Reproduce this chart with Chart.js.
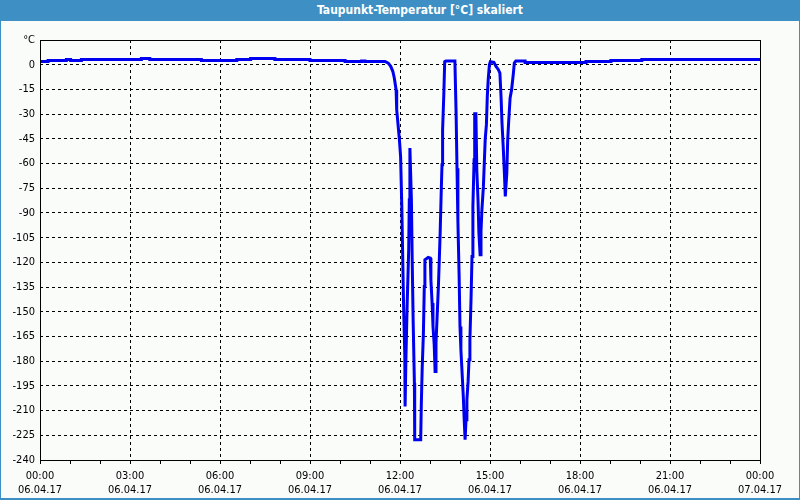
<!DOCTYPE html>
<html>
<head>
<meta charset="utf-8">
<script src="https://cdn.jsdelivr.net/npm/chart.js@4/dist/chart.umd.min.js"></script>
<style>
  html, body { margin: 0; padding: 0; }
  body { width: 800px; height: 500px; position: relative; background: #fafcfa; overflow: hidden; }
  #frame { position: absolute; left: 0; top: 0; width: 800px; height: 500px; box-sizing: border-box;
           border: 1px solid #3c8fc4; border-bottom-width: 2px; }
  #titlebar { position: absolute; left: 0; top: 0; width: 800px; height: 21px; background: #3d8fc4;
              color: #ffffff; font: bold 12px "DejaVu Sans Condensed", "DejaVu Sans", sans-serif;
              line-height: 21px; text-align: center; box-sizing: border-box; padding-left: 40px; }
  #c { position: absolute; left: 0; top: 0; }
</style>
</head>
<body>
<div id="frame"></div>
<div id="titlebar">Taupunkt-Temperatur [°C] skaliert</div>
<canvas id="c" width="800" height="500"></canvas>
<script>
// Time in hours since 06.04.17 00:00
const timeHours = [
  0, 0.27, 0.27, 0.88, 0.88, 1.02, 1.02, 1.38, 1.38, 3.38, 3.38, 3.66, 3.66, 5.38, 5.38, 6.56, 6.56, 7.02, 7.02, 7.83,
  7.83, 9.0, 9.0, 10.17, 10.17, 10.72, 10.72, 10.83, 10.83, 11.5,
  11.61, 11.69, 11.76, 11.81, 11.87, 11.89, 11.94, 11.98, 12.02, 12.06, 12.09, 12.12, 12.16, 12.17, 12.2, 12.24, 12.29,
  12.31, 12.33, 12.38, 12.41, 12.44, 12.48, 12.49, 12.69, 12.71, 12.74, 12.78, 12.81, 12.83, 12.94, 13.01, 13.03, 13.07,
  13.1, 13.14, 13.17, 13.2, 13.24, 13.28, 13.31, 13.34, 13.37, 13.4, 13.42, 13.46, 13.49, 13.53, 13.83, 13.87, 13.9,
  13.93, 13.97, 14.0, 14.03, 14.07, 14.11, 14.14, 14.17, 14.2, 14.23, 14.27, 14.3, 14.33, 14.37, 14.4, 14.43, 14.47,
  14.49, 14.53, 14.56, 14.6, 14.63, 14.67, 14.7, 14.73, 14.78, 14.81, 14.84, 14.88, 14.91, 14.94, 14.98, 15.01, 15.13,
  15.2, 15.28, 15.33, 15.37, 15.4, 15.44, 15.48, 15.51, 15.56, 15.59, 15.62, 15.67, 15.72, 15.78, 15.81, 15.86,
  16.17, 16.17, 18.2, 18.2, 19.03, 19.03, 20.06, 20.06, 24
];
// Dew point temperature [°C]
const dewPoint = [
  2.0, 2.0, 2.6, 2.6, 3.2, 3.2, 2.6, 2.6, 3.2, 3.2, 3.8, 3.8, 3.2, 3.2, 2.6, 2.6, 3.2, 3.2, 3.8, 3.8,
  3.2, 3.2, 2.6, 2.6, 2.0, 2.0, 2.3, 2.3, 2.0, 2.0,
  1.0, -1.0, -4.0, -8.1, -15.2, -27.3, -37.5, -45.5, -55.7, -86.0, -116.4, -146.8, -176.1, -207.5, -176.1, -144.7, -112.4,
  -82.0, -50.6, -82.0, -122.5, -156.9, -193.3, -227.7, -227.7, -206.5, -184.2, -163.0, -134.6, -118.4, -117.0, -117.4, -130.6, -144.7,
  -158.9, -170.0, -186.2, -169.0, -151.8, -134.6, -118.4, -101.2, -80.0, -60.7, -39.5, -18.2, 1.8, 2.2, 2.2, -29.4, -62.8,
  -95.1, -127.5, -158.9, -173.1, -187.2, -201.4, -215.6, -227.7, -215.6, -203.4, -192.3, -179.2, -167.0, -140.7, -116.4, -86.0, -57.7,
  -29.8, -29.8, -63.8, -82.0, -102.2, -115.4, -101.2, -88.1, -73.9, -59.7, -45.5, -36.4, -19.2, -9.1, 0, 1.8, 1.4,
  -1.0, -3.0, -5.1, -20.2, -35.4, -49.6, -65.8, -80.0, -65.8, -45.5, -35.4, -20.2, -15.2, -5.1, 1.0, 2.2,
  2.2, 1.4, 1.4, 2.0, 2.0, 2.6, 2.6, 3.2, 3.2
];
// X tick labels every 3 hours
const xTickHours = [0, 3, 6, 9, 12, 15, 18, 21, 24];
const xTickTimes = ['00:00', '03:00', '06:00', '09:00', '12:00', '15:00', '18:00', '21:00', '00:00'];
const xTickDates = ['06.04.17', '06.04.17', '06.04.17', '06.04.17', '06.04.17', '06.04.17', '06.04.17', '06.04.17', '07.04.17'];
// Y axis
const yMin = -240, yMax = 15, yStep = 15;
const yUnitLabel = '°C';

const points = timeHours.map((t, i) => ({ x: t, y: dewPoint[i] }));
const tickFont = { family: '"DejaVu Sans Condensed", "DejaVu Sans", sans-serif', size: 11 };

const frameBorder = {
  id: 'frameBorder',
  afterDatasetsDraw(chart) {
    const a = chart.chartArea, ctx = chart.ctx;
    ctx.save();
    ctx.strokeStyle = '#000';
    ctx.lineWidth = 1;
    ctx.setLineDash([]);
    ctx.strokeRect(Math.round(a.left) + 0.5, Math.round(a.top) + 0.5,
                   Math.round(a.right - a.left), Math.round(a.bottom - a.top));
    ctx.restore();
  }
};

new Chart(document.getElementById('c'), {
  type: 'line',
  data: {
    datasets: [{
      data: points,
      borderColor: '#0000f0',
      borderWidth: 3,
      pointRadius: 0,
      tension: 0,
      fill: false
    }]
  },
  options: {
    responsive: false,
    animation: false,
    devicePixelRatio: 1,
    layout: { padding: { top: 40, right: 40, left: 0, bottom: 0 } },
    plugins: { legend: { display: false }, tooltip: { enabled: false }, title: { display: false } },
    scales: {
      x: {
        type: 'linear',
        min: 0, max: 24,
        afterFit(scale) { scale.height = 40; },
        border: { display: false, dash: [3, 3] },
        grid: {
          color: (c) => (c.tick && xTickHours.includes(c.tick.value) ? '#000' : 'rgba(0,0,0,0)'),
          tickColor: '#000',
          tickLength: 4,
          tickBorderDash: [],
          lineWidth: 1
        },
        ticks: {
          stepSize: 1,
          autoSkip: false,
          maxRotation: 0,
          padding: 6,
          color: '#000',
          font: tickFont,
          callback: (v) => {
            const i = xTickHours.indexOf(v);
            return i >= 0 ? [xTickTimes[i], xTickDates[i]] : '';
          }
        }
      },
      y: {
        min: yMin, max: yMax,
        afterFit(scale) { scale.width = 40; },
        border: { display: false, dash: [3, 3] },
        grid: {
          color: '#000',
          drawTicks: false,
          lineWidth: 1
        },
        ticks: {
          stepSize: yStep,
          padding: 5,
          color: '#000',
          font: tickFont,
          callback: (v) => (v === yMax ? yUnitLabel : String(v))
        }
      }
    }
  },
  plugins: [frameBorder]
});
</script>
</body>
</html>
